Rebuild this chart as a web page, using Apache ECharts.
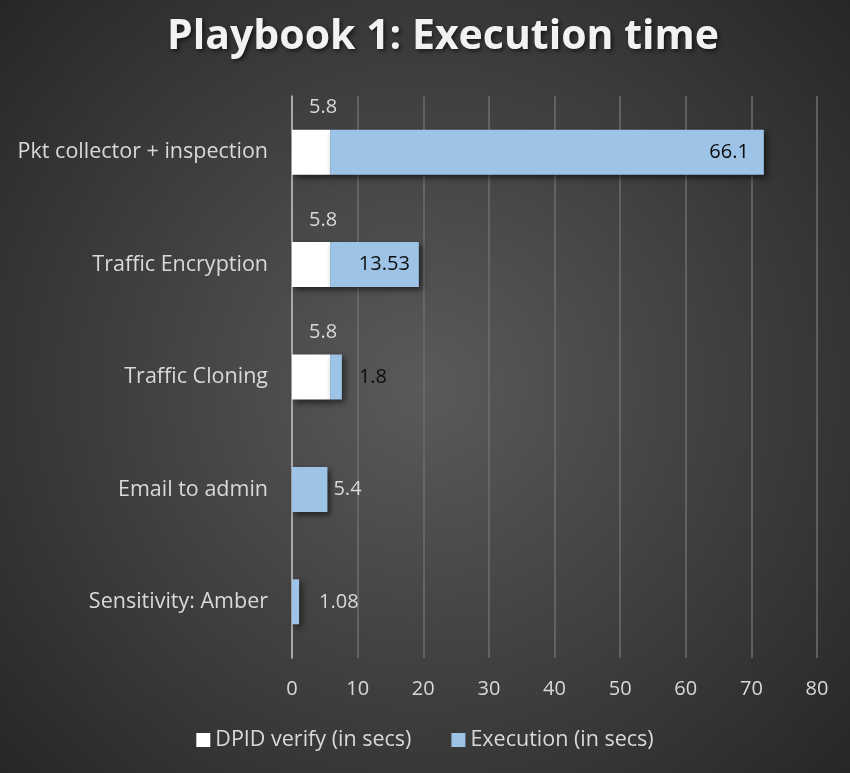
<!DOCTYPE html>
<html><head><meta charset="utf-8">
<script src="https://cdn.jsdelivr.net/npm/echarts@6/dist/echarts.min.js"></script>
<style>html,body{margin:0;padding:0;background:#333}#c{width:850px;height:773px}</style>
</head><body><div id="c"></div>
<script>
const categories = ['Pkt collector + inspection', 'Traffic Encryption', 'Traffic Cloning', 'Email to admin', 'Sensitivity: Amber'];
const dpidVerify = [5.8, 5.8, 5.8, 0, 0];
const execution = [66.1, 13.53, 1.8, 5.4, 1.08];
const xTicks = [0, 10, 20, 30, 40, 50, 60, 70, 80];

const FONT = 'Open Sans';
const execLabelStyles = [
  {position: 'insideRight', distance: 15, color: '#0d0d0d'},
  {position: 'insideRight', distance: 9, color: '#0d0d0d'},
  {position: 'right', distance: 17, color: '#0d0d0d'},
  {position: 'right', distance: 6, color: '#d9d9d9'},
  {position: 'right', distance: 20, color: '#d9d9d9'}
];
const shadow = {shadowBlur: 6, shadowOffsetX: 3, shadowOffsetY: 3, shadowColor: 'rgba(0,0,0,0.55)'};

const chart = echarts.init(document.getElementById('c'));
chart.setOption({
  animation: false,
  backgroundColor: {type: 'radial', x: 0.5, y: 0.5, r: 0.75,
    colorStops: [{offset: 0, color: '#5a5a5a'}, {offset: 1, color: '#262626'}]},
  title: {text: 'Playbook 1: Execution time', left: 162, top: 12,
    textStyle: {fontFamily: FONT, fontSize: 41, fontWeight: 'bold', color: '#f2f2f2',
      textShadowColor: 'rgba(0,0,0,0.6)', textShadowBlur: 4, textShadowOffsetX: 2, textShadowOffsetY: 2}},
  legend: {bottom: 17, left: 'center', itemWidth: 14, itemHeight: 14, itemGap: 40, icon: 'rect',
    textStyle: {fontFamily: FONT, fontSize: 21.5, color: '#d9d9d9'},
    data: ['DPID verify (in secs)', 'Execution (in secs)']},
  grid: {left: 292, right: 33, top: 96, bottom: 115, containLabel: false},
  xAxis: {type: 'value', min: xTicks[0], max: xTicks[xTicks.length - 1], interval: 10,
    axisLine: {show: false}, axisTick: {show: false},
    splitLine: {lineStyle: {color: '#6e6e6e', width: 1.5}},
    axisLabel: {fontFamily: FONT, fontSize: 20, color: '#d9d9d9', margin: 21}},
  yAxis: {type: 'category', data: categories, inverse: true,
    axisLine: {lineStyle: {color: '#c0c0c0', width: 1.5}}, axisTick: {show: false},
    axisLabel: {fontFamily: FONT, fontSize: 21.5, color: '#d9d9d9', margin: 24}},
  series: [
    {name: 'DPID verify (in secs)', type: 'bar', stack: 't', barWidth: 45,
      itemStyle: Object.assign({color: '#ffffff'}, shadow),
      data: dpidVerify.map(v => ({value: v, label: {show: v > 0}})),
      label: {position: 'top', distance: 12, offset: [12, 0], fontFamily: FONT, fontSize: 20, color: '#d9d9d9'}},
    {name: 'Execution (in secs)', type: 'bar', stack: 't', barWidth: 45,
      itemStyle: Object.assign({color: '#9dc3e6'}, shadow),
      data: execution.map((v, i) => ({value: v, label: Object.assign({show: true}, execLabelStyles[i])})),
      label: {fontFamily: FONT, fontSize: 20}}
  ]
});
</script></body></html>
